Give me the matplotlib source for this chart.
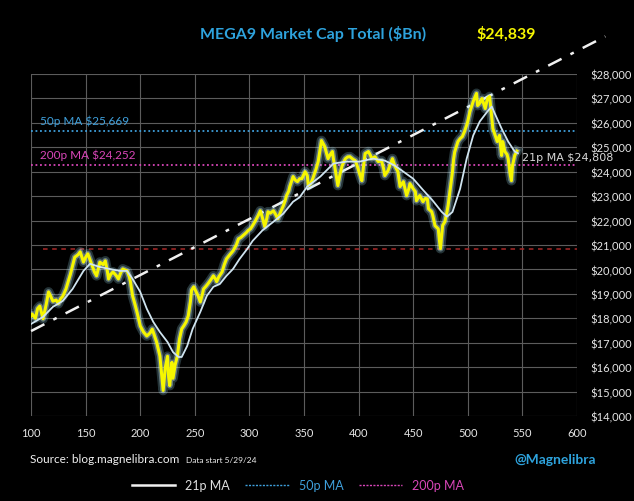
import matplotlib
matplotlib.use('Agg')
from matplotlib import pyplot as plt
from matplotlib.lines import Line2D

# MEGA9 market cap ($Bn), x = day count since 5/29/24
day = [100, 101, 104, 106, 108, 111, 114, 116, 118, 120, 123, 125, 127, 129, 132, 134, 136, 138, 140, 143,
       145, 148, 150, 152, 154, 156, 158, 160, 162, 163, 166, 168, 170, 171, 173, 175, 178, 180, 182, 184,
       186, 188, 190, 191, 193, 195, 197, 200, 203, 206, 209, 211, 213, 215, 218, 220, 221, 223, 225, 226,
       227, 229, 230, 232, 234, 236, 238, 240, 242, 244, 246, 247, 249, 251, 253, 255, 257, 258, 260, 262,
       265, 267, 269, 270, 272, 275, 277, 279, 282, 285, 288, 290, 292, 294, 297, 299, 301, 303, 305, 308,
       310, 312, 314, 316, 317, 319, 322, 324, 326, 329, 331, 333, 334, 336, 337, 340, 342, 344, 346, 348,
       351, 353, 354, 356, 358, 361, 363, 365, 366, 368, 369, 371, 372, 374, 376, 377, 378, 380, 381, 383,
       385, 387, 388, 390, 392, 395, 397, 399, 401, 403, 405, 406, 409, 411, 412, 415, 418, 421, 423, 424,
       427, 429, 431, 433, 436, 438, 441, 443, 444, 446, 447, 450, 452, 453, 456, 459, 461, 463, 464, 467,
       468, 470, 473, 474, 475, 477, 479, 481, 482, 484, 486, 487, 488, 491, 493, 495, 497, 499, 500, 502,
       505, 507, 508, 509, 511, 513, 516, 518, 520, 522, 523, 525, 527, 529, 531, 532, 534, 536, 537, 539,
       540, 541, 543, 545]
cap = [18100, 18180, 18000, 18400, 18500, 17980, 18600, 19080, 18900, 18700, 18750, 18600, 18800, 18900, 19200, 19500, 19800, 20150, 20500, 20600,
       20720, 20300, 20500, 20640, 20400, 20150, 19900, 19740, 20100, 20300, 20200, 20350, 19900, 19610, 19800, 19900, 19750, 19610, 19850, 20020,
       19980, 19940, 19700, 19500, 18920, 18600, 18260, 17690, 17440, 17280, 17400, 17560, 17300, 17030, 16460, 15500, 15050, 16000, 16450, 15600,
       15250, 16200, 15550, 16100, 16460, 17160, 17570, 17700, 17850, 18100, 18700, 19150, 19290, 19100, 18920, 18670, 19000, 19200, 19300, 19410,
       19600, 19740, 19600, 19500, 19700, 19900, 20200, 20430, 20600, 20760, 21000, 21250, 21300, 21380, 21500, 21600, 21660, 21800, 21950, 22200,
       22400, 22100, 21750, 22100, 22360, 22300, 22400, 22250, 22070, 22400, 22600, 22850, 23020, 23200, 23390, 23800, 23650, 23590, 23710, 23710,
       24000, 23840, 23430, 23500, 23710, 24100, 24410, 25000, 25270, 25100, 25020, 24700, 24530, 24700, 24820, 24500, 24250, 23700, 23430, 23900,
       24250, 24450, 24530, 24600, 24610, 24500, 24450, 24200, 23900, 23630, 24400, 24740, 24820, 24650, 24530, 24610, 24410, 24450, 24100, 23840,
       24040, 24300, 24530, 24250, 24000, 23390, 23590, 23200, 23020, 23300, 23510, 23300, 23180, 22810, 23020, 22770, 22900, 22890, 22480, 22360,
       22200, 21790, 21660, 21200, 20850, 21800, 21950, 22360, 22610, 23300, 24000, 24500, 24800, 25230, 25350, 25430, 25640, 25900, 26050, 26460,
       26870, 27100, 27200, 26700, 26800, 26990, 26580, 26990, 27070, 26170, 25760, 25500, 25230, 25480, 24660, 25230, 24820, 24700, 24530, 23840,
       23630, 24250, 24660, 24839]

# 21 period moving average
ma_day = [100, 111, 120, 129, 138, 148, 154, 163, 172, 181, 188, 193, 200, 206, 212, 218, 225, 230, 235, 238,
          243, 248, 255, 261, 267, 273, 279, 285, 291, 298, 303, 312, 322, 331, 340, 346, 353, 365, 377, 389,
          401, 413, 424, 433, 441, 450, 459, 468, 476, 481, 486, 493, 499, 505, 511, 518, 522, 525, 531, 537,
          543, 546]
ma21 = [17770, 18060, 18470, 18710, 19200, 19940, 20230, 20100, 20020, 19940, 19940, 19610, 19080, 18390, 17850, 17440, 17030, 16620, 16420, 16420,
        16870, 17570, 18260, 18920, 19290, 19410, 19740, 20020, 20430, 20840, 21170, 21600, 21950, 22280, 22770, 22950, 23390, 23800, 24330, 24410,
        24410, 24530, 24450, 24250, 24000, 23710, 23250, 22810, 22360, 22160, 22350, 23300, 24530, 25480, 26050, 26460, 26660, 26350, 25760, 25230,
        24820, 24750]

ma50 = 25669
ma200 = 24252
support = 20850
trend_x = [100, 626]
trend_y = [17480, 29530]
last_cap = 24839
last_ma21 = 24808

blue = '#2ea3dd'
pink = '#d946b8'
yellow = '#f6f600'
ma_col = '#cfe4f0'

plt.rcParams['font.family'] = ['Lato', 'DejaVu Sans']

fig = plt.figure(figsize=(6.34, 5.02), dpi=100, facecolor='black')
ax = fig.add_axes([0.049, 0.169, 0.861, 0.682], facecolor='black')

# 网格
ax.set_xlim(100, 600)
ax.set_ylim(14000, 28000)
ax.set_xticks(range(100, 601, 50))
ax.set_yticks(range(14000, 28001, 1000))
ax.set_yticklabels([f'${v:,}' for v in range(14000, 28001, 1000)])
ax.grid(color='#5c5c5c', linewidth=0.8)
ax.set_axisbelow(True)
for s in ax.spines.values():
    s.set_visible(False)
ax.yaxis.tick_right()
ax.tick_params(axis='both', length=0, colors='#e6e6e6', labelsize=8)
ax.tick_params(axis='y', pad=10)
ax.tick_params(axis='x', pad=8)

# 水平参考线
ax.axhline(ma50, color='#3fa0dc', linestyle=(0, (1, 1.5)), linewidth=1.3)
ax.axhline(ma200, color=pink, linestyle=(0, (1, 1.5)), linewidth=1.3)
ax.plot([111, 600], [support, support], color='#a82828', linestyle=(0, (3, 3)), linewidth=1.1)

# 趋势线
ax.plot(trend_x, trend_y, color='#f0f0f0', linestyle=(0, (6, 4, 1.5, 4)), linewidth=1.8,
        clip_on=False, zorder=3)

# 主曲线 with glow
ax.plot(day, cap, color='#a8ecff', linewidth=7, alpha=0.22, zorder=4, solid_joinstyle='round')
ax.plot(day, cap, color='#d8f8ff', linewidth=4.2, alpha=0.35, zorder=4, solid_joinstyle='round')
ax.plot(day, cap, color=yellow, linewidth=2.2, zorder=5, solid_joinstyle='round')
ax.plot(ma_day, ma21, color=ma_col, linewidth=1.3, zorder=6)

# 标注
ax.text(108, 26120, f'50p MA ${ma50:,}', color='#3fa0dc', fontsize=8.5, va='center', ha='left')
ax.text(108, 24720, f'200p MA ${ma200:,}', color=pink, fontsize=8.5, va='center', ha='left')
ax.text(550, 24600, f'21p MA ${last_ma21:,}', color='#d8d8d8', fontsize=8, va='center', ha='left',
        family='DejaVu Sans', clip_on=False)

fig.text(0.494, 0.932, 'MEGA9 Market Cap Total ($Bn)', color=blue, fontsize=11.5, weight='bold',
         ha='center', va='center')
fig.text(0.798, 0.932, f'${last_cap:,}', color=yellow, fontsize=11.5, weight='bold',
         ha='center', va='center')
fig.text(0.047, 0.084, 'Source: blog.magnelibra.com', color='#f0f0f0', fontsize=8.5, va='center')
fig.text(0.293, 0.082, 'Data start 5/29/24', color='#f0f0f0', fontsize=6, va='center')
fig.text(0.812, 0.084, '@Magnelibra', color=blue, fontsize=10, weight='bold', va='center')

handles = [Line2D([], [], color='#f0f0f0', linewidth=1.8),
           Line2D([], [], color='#3fa0dc', linewidth=1, linestyle=(0, (1.5, 1))),
           Line2D([], [], color=pink, linewidth=1, linestyle=(0, (1.5, 1)))]
fig.legend(handles, ['21p MA', '50p MA', '200p MA'], loc='center', bbox_to_anchor=(0.47, 0.032),
           ncol=3, frameon=False, fontsize=9, handlelength=3.5, columnspacing=1.2,
           labelcolor=['#e0e0e0', '#3fa0dc', pink])

plt.savefig('out.png', dpi=100, facecolor='black')
